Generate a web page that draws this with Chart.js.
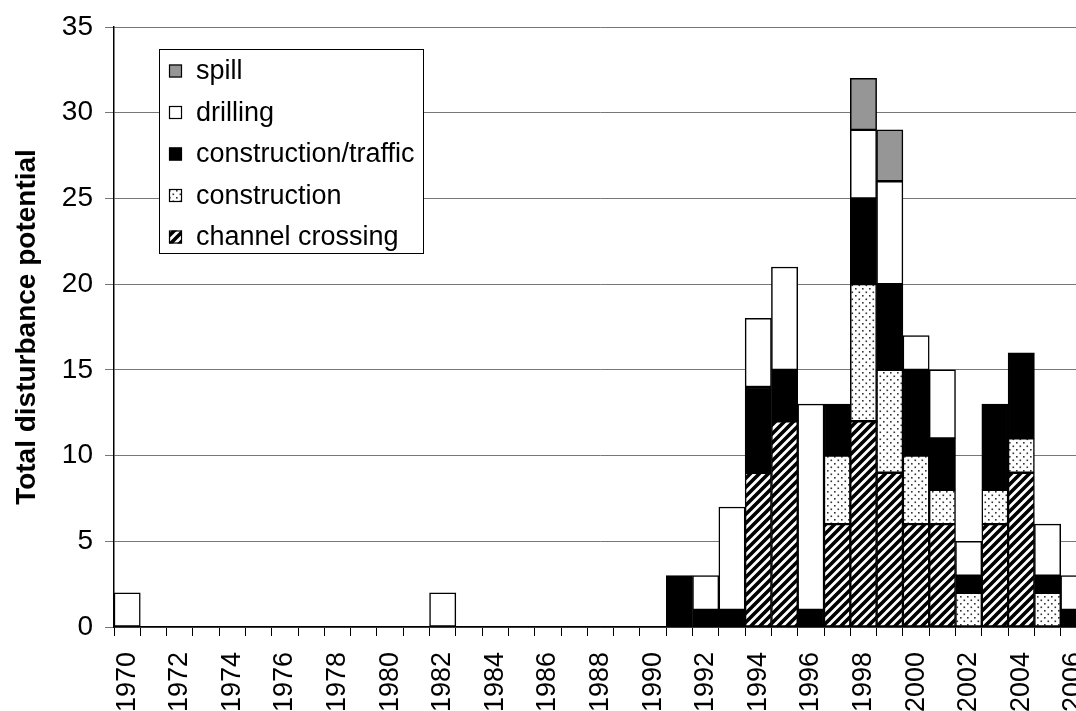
<!DOCTYPE html>
<html>
<head>
<meta charset="utf-8">
<script src="https://cdn.jsdelivr.net/npm/chart.js@4/dist/chart.umd.min.js"></script>
<style>
  html, body { margin: 0; padding: 0; background: #fff; overflow: hidden; }
  #wrap { position: relative; width: 1087px; height: 711px; }
</style>
</head>
<body>
<div id="wrap"><canvas id="disturbChart"></canvas></div>
<script>
// Disturbance potential per year, stacked by activity type
const years = ['1970', '1971', '1972', '1973', '1974', '1975', '1976', '1977', '1978', '1979',
  '1980', '1981', '1982', '1983', '1984', '1985', '1986', '1987', '1988', '1989',
  '1990', '1991', '1992', '1993', '1994', '1995', '1996', '1997', '1998', '1999',
  '2000', '2001', '2002', '2003', '2004', '2005', '2006'];

const channelCrossing = [0, 0, 0, 0, 0, 0, 0, 0, 0, 0, 0, 0, 0, 0, 0, 0, 0, 0, 0, 0,
  0, 0, 0, 0, 9, 12, 0, 6, 12, 9, 6, 6, 0, 6, 9, 0, 0];
const construction = [0, 0, 0, 0, 0, 0, 0, 0, 0, 0, 0, 0, 0, 0, 0, 0, 0, 0, 0, 0,
  0, 0, 0, 0, 0, 0, 0, 4, 8, 6, 4, 2, 2, 2, 2, 2, 0];
const constructionTraffic = [0, 0, 0, 0, 0, 0, 0, 0, 0, 0, 0, 0, 0, 0, 0, 0, 0, 0, 0, 0,
  0, 3, 1, 1, 5, 3, 1, 3, 5, 5, 5, 3, 1, 5, 5, 1, 1];
const drilling = [2, 0, 0, 0, 0, 0, 0, 0, 0, 0, 0, 0, 2, 0, 0, 0, 0, 0, 0, 0,
  0, 0, 2, 6, 4, 6, 12, 0, 4, 6, 2, 4, 2, 0, 0, 3, 2];
const spill = [0, 0, 0, 0, 0, 0, 0, 0, 0, 0, 0, 0, 0, 0, 0, 0, 0, 0, 0, 0,
  0, 0, 0, 0, 0, 0, 0, 0, 3, 3, 0, 0, 0, 0, 0, 0, 0];

const yTicks = [0, 5, 10, 15, 20, 25, 30, 35];

const FONT = "'Liberation Sans', Arial, sans-serif";

// diagonal hatch fill
function hatchPattern() {
  const c = document.createElement('canvas');
  c.width = 9; c.height = 9;
  const g = c.getContext('2d');
  g.fillStyle = '#fff';
  g.fillRect(0, 0, 9, 9);
  g.strokeStyle = '#000';
  g.lineWidth = 3.6;
  g.beginPath();
  g.moveTo(-2, 11); g.lineTo(11, -2);
  g.moveTo(-11, 11); g.lineTo(2, -2);
  g.moveTo(7, 11); g.lineTo(20, -2);
  g.stroke();
  return g.createPattern(c, 'repeat');
}

// sparse dot fill
function dotPattern() {
  const c = document.createElement('canvas');
  c.width = 7; c.height = 7;
  const g = c.getContext('2d');
  g.fillStyle = '#fff';
  g.fillRect(0, 0, 7, 7);
  g.fillStyle = '#333';
  g.fillRect(1, 1, 1.6, 1.6);
  g.fillRect(4.5, 4.5, 1.6, 1.6);
  return g.createPattern(c, 'repeat');
}

const fills = {
  channel: hatchPattern(),
  construction: dotPattern(),
  traffic: '#000',
  drilling: '#fff',
  spill: '#969696'
};

function series(label, values, fill) {
  return {
    label,
    data: values.map(v => v || null),
    backgroundColor: fill,
    borderColor: '#000',
    borderWidth: 1.5,
    borderSkipped: false,
    barPercentage: 1,
    categoryPercentage: 1
  };
}

// legend box drawn inside the plot, top to bottom in reverse stack order
const boxLegend = {
  id: 'boxLegend',
  afterDraw(chart) {
    const ctx = chart.ctx;
    const items = chart.data.datasets.slice().reverse();
    const x = 159, y = 49, w = 264, h = 204;
    ctx.save();
    ctx.fillStyle = '#fff';
    ctx.fillRect(x, y, w, h);
    ctx.strokeStyle = '#000';
    ctx.lineWidth = 1;
    ctx.strokeRect(x + 0.5, y + 0.5, w, h);
    ctx.font = '27px ' + FONT;
    ctx.textBaseline = 'middle';
    items.forEach((ds, i) => {
      const cy = 71 + i * 41.5;
      ctx.fillStyle = ds.backgroundColor;
      ctx.fillRect(169, cy - 6.5, 13, 13);
      ctx.strokeStyle = '#000';
      ctx.lineWidth = 1.2;
      ctx.strokeRect(169.5, cy - 6, 12, 12);
      ctx.fillStyle = '#000';
      ctx.fillText(ds.label, 196, cy + 1);
    });
    ctx.restore();
  }
};

new Chart(document.getElementById('disturbChart'), {
  type: 'bar',
  data: {
    labels: years,
    datasets: [
      series('channel crossing', channelCrossing, fills.channel),
      series('construction', construction, fills.construction),
      series('construction/traffic', constructionTraffic, fills.traffic),
      series('drilling', drilling, fills.drilling),
      series('spill', spill, fills.spill)
    ]
  },
  options: {
    responsive: true,
    maintainAspectRatio: false,
    animation: false,
    layout: { padding: { top: 27, right: 0, bottom: 0, left: 0 } },
    plugins: {
      legend: { display: false },
      tooltip: { enabled: false }
    },
    scales: {
      x: {
        stacked: true,
        offset: true,
        grid: { offset: true, drawOnChartArea: false, color: '#000', lineWidth: 1, tickLength: 9 },
        border: { color: '#000', width: 1.5 },
        ticks: {
          autoSkip: false,
          maxRotation: 90,
          minRotation: 90,
          padding: 16,
          color: '#000',
          font: { family: FONT, size: 27 },
          callback: (v, i) => (i % 2 === 0 ? years[i] : '')
        },
        afterFit(scale) {
          scale.height = 84;
          scale.paddingLeft = 0;
          scale.paddingRight = 0;
        }
      },
      y: {
        stacked: true,
        min: yTicks[0],
        max: yTicks[yTicks.length - 1],
        afterBuildTicks(scale) {
          scale.ticks = yTicks.map(v => ({ value: v }));
        },
        grid: { color: '#777', lineWidth: 1, tickLength: 9 },
        border: { color: '#000', width: 1.5 },
        ticks: {
          padding: 12,
          color: '#000',
          font: { family: FONT, size: 28 }
        },
        title: {
          display: true,
          text: 'Total disturbance potential',
          color: '#000',
          font: { family: FONT, size: 28, weight: 'bold' },
          padding: { top: 10, bottom: 0 }
        },
        afterFit(scale) {
          scale.width = 114;
          scale.paddingTop = 0;
          scale.paddingBottom = 0;
        }
      }
    }
  },
  plugins: [boxLegend]
});
</script>
</body>
</html>
